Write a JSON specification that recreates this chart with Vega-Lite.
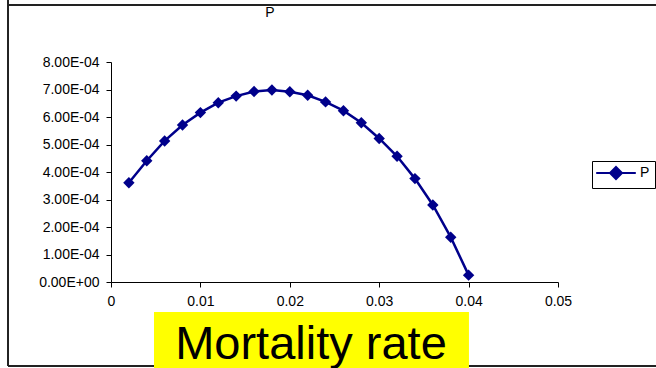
{
  "$schema": "https://vega.github.io/schema/vega-lite/v6.json",
  "autosize": {"type": "none"},
  "width": 447,
  "height": 220,
  "padding": {"left": 111, "top": 62, "right": 98, "bottom": 86},
  "background": "white",
  "config": {
    "font": "Liberation Sans",
    "view": {"stroke": null},
    "axis": {"grid": false, "labelFontSize": 14, "labelFlush": false}
  },
  "resolve": {"axis": {"x": "independent", "y": "independent"}},
  "data": {
    "values": [
      {"mortality": 0.002, "P": 0.000361, "series": "P"},
      {"mortality": 0.004, "P": 0.000441, "series": "P"},
      {"mortality": 0.006, "P": 0.000513, "series": "P"},
      {"mortality": 0.008, "P": 0.000571, "series": "P"},
      {"mortality": 0.010, "P": 0.000616, "series": "P"},
      {"mortality": 0.012, "P": 0.000652, "series": "P"},
      {"mortality": 0.014, "P": 0.000676, "series": "P"},
      {"mortality": 0.016, "P": 0.000693, "series": "P"},
      {"mortality": 0.018, "P": 0.000698, "series": "P"},
      {"mortality": 0.020, "P": 0.000692, "series": "P"},
      {"mortality": 0.022, "P": 0.000679, "series": "P"},
      {"mortality": 0.024, "P": 0.000655, "series": "P"},
      {"mortality": 0.026, "P": 0.000623, "series": "P"},
      {"mortality": 0.028, "P": 0.000579, "series": "P"},
      {"mortality": 0.030, "P": 0.000522, "series": "P"},
      {"mortality": 0.032, "P": 0.000457, "series": "P"},
      {"mortality": 0.034, "P": 0.000376, "series": "P"},
      {"mortality": 0.036, "P": 0.000280, "series": "P"},
      {"mortality": 0.038, "P": 0.000163, "series": "P"},
      {"mortality": 0.040, "P": 0.000025, "series": "P"}
    ]
  },
  "layer": [
    {
      "mark": {"type": "line", "strokeWidth": 2.5, "point": {"shape": "diamond", "size": 130, "filled": true}},
      "encoding": {
        "x": {"field": "mortality", "type": "quantitative", "scale": {"domain": [0, 0.05], "nice": false},
          "axis": {"title": null, "grid": false, "values": [0, 0.01, 0.02, 0.03, 0.04, 0.05], "labelExpr": "format(datum.value, '~g')", "labelPadding": 7, "labelFlush": false,
            "labelFont": "Liberation Sans", "labelFontSize": 14, "labelColor": "#000000", "labelOverlap": false, "domainColor": "#000000", "tickColor": "#000000", "tickSize": 5}},
        "y": {"field": "P", "type": "quantitative", "scale": {"domain": [0, 0.0008], "nice": false},
          "axis": {"title": null, "grid": false, "values": [0, 0.0001, 0.0002, 0.0003, 0.0004, 0.0005, 0.0006, 0.0007, 0.0008], "labelExpr": "replace(replace(upper(format(datum.value, '.2e')), 'E-', 'E-0'), 'E+', 'E+0')", "labelPadding": 7, "labelFlush": false,
            "labelFont": "Liberation Sans", "labelFontSize": 14, "labelColor": "#000000", "labelOverlap": false, "domainColor": "#000000", "tickColor": "#000000", "tickSize": 5}},
        "color": {"field": "series", "type": "nominal", "scale": {"domain": ["P"], "range": ["#00008B"]},
          "legend": {"title": null, "orient": "none", "legendX": 481, "legendY": 99, "strokeColor": "#000000", "padding": 5,
            "symbolType": "M-3.3,0H3.3M0,-1L1,0L0,1L-1,0Z", "symbolSize": 144, "symbolOffset": 12, "symbolStrokeWidth": 2, "symbolFillColor": "#00008B",
            "labelFontSize": 14, "labelColor": "#000000", "labelFont": "Liberation Sans", "labelOffset": 17}}
      }
    },
    {
      "data": {"values": [{}]},
      "mark": {"type": "rule", "color": "#222222", "strokeWidth": 2},
      "encoding": {
        "x": {"datum": -0.01152, "type": "quantitative", "axis": null},
        "y": {"datum": 0.00103, "type": "quantitative", "axis": null},
        "y2": {"datum": -0.0003055}
      }
    },
    {
      "data": {"values": [{}]},
      "mark": {"type": "rule", "color": "#222222", "strokeWidth": 2},
      "encoding": {
        "x": {"datum": -0.01152, "type": "quantitative", "axis": null},
        "x2": {"datum": 0.062},
        "y": {"datum": 0.0010073, "type": "quantitative", "axis": null}
      }
    },
    {
      "data": {"values": [{}]},
      "mark": {"type": "rule", "color": "#222222", "strokeWidth": 2},
      "encoding": {
        "x": {"datum": -0.01152, "type": "quantitative", "axis": null},
        "x2": {"datum": 0.062},
        "y": {"datum": -0.0003055, "type": "quantitative", "axis": null}
      }
    },
    {
      "data": {"values": [{}]},
      "mark": {"type": "rect", "color": "#FFFF00"},
      "encoding": {
        "x": {"datum": 0.00481, "type": "quantitative", "axis": null},
        "x2": {"datum": 0.04004},
        "y": {"datum": -0.0001091, "type": "quantitative", "axis": null},
        "y2": {"datum": -0.000315}
      }
    },
    {
      "data": {"values": [{}]},
      "mark": {"type": "text", "text": "Mortality rate", "fontSize": 47, "font": "Liberation Sans", "color": "#000000", "align": "center", "baseline": "alphabetic"},
      "encoding": {
        "x": {"datum": 0.02237, "type": "quantitative", "axis": null},
        "y": {"datum": -0.00028, "type": "quantitative", "axis": null}
      }
    },
    {
      "data": {"values": [{}]},
      "mark": {"type": "text", "text": "P", "fontSize": 14, "font": "Liberation Sans", "color": "#000000", "align": "center", "baseline": "middle"},
      "encoding": {
        "x": {"datum": 0.01779, "type": "quantitative", "axis": null},
        "y": {"datum": 0.00098, "type": "quantitative", "axis": null}
      }
    }
  ]
}
